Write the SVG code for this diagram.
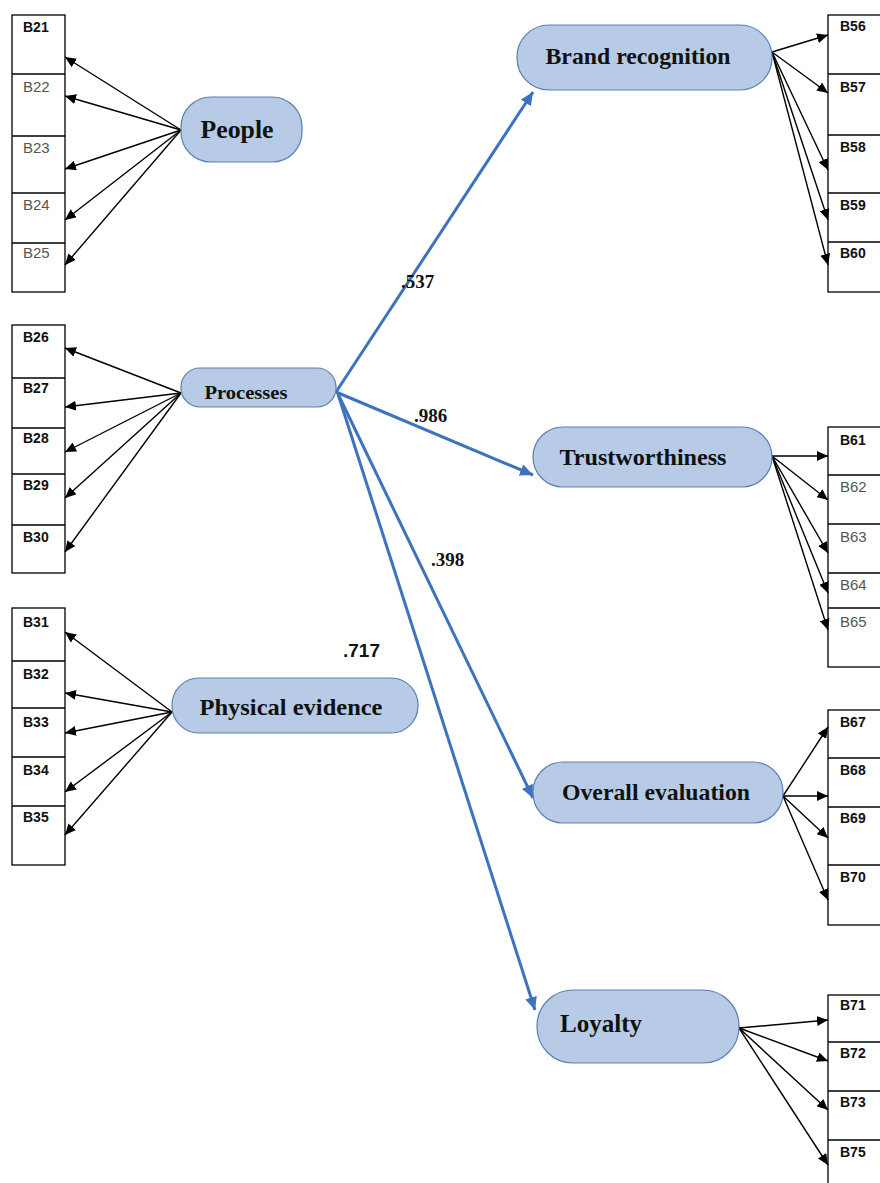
<svg xmlns="http://www.w3.org/2000/svg" width="880" height="1183" viewBox="0 0 880 1183">
<defs>
<marker id="ah" markerUnits="userSpaceOnUse" markerWidth="12" markerHeight="10" refX="11" refY="5" orient="auto">
<path d="M0,0 L11,5 L0,10 Z" fill="#000"/>
</marker>
<marker id="bh" markerUnits="userSpaceOnUse" markerWidth="14" markerHeight="12" refX="13" refY="6" orient="auto">
<path d="M0,0 L13,6 L0,12 Z" fill="#3b73bd"/>
</marker>
<style>
.box{fill:#fff;stroke:#000;stroke-width:1.3}
.div{stroke:#000;stroke-width:1.3}
.lb{font-family:"Liberation Sans",Arial,sans-serif;font-size:14px;font-weight:bold;fill:#111}
.ln{font-family:"Liberation Sans",Arial,sans-serif;font-size:15px;fill:#555}
.node{fill:#b7cbe6;stroke:#5b7fb3;stroke-width:1.2}
.nt{font-family:"Liberation Serif","Times New Roman",serif;font-size:24px;font-weight:bold;fill:#111;text-anchor:middle}
.k{stroke:#000;stroke-width:1.4;fill:none;marker-end:url(#ah)}
.b{stroke:#3b73bd;stroke-width:3;fill:none;marker-end:url(#bh)}
.v{font-family:"Liberation Serif","Times New Roman",serif;font-size:19px;font-weight:bold;fill:#111}
.vs{font-family:"Liberation Sans",Arial,sans-serif;font-size:19px;font-weight:bold;fill:#111}
</style>
</defs>
<rect width="880" height="1183" fill="#fff"/>

<g id="col-people">
<rect class="box" x="12" y="15" width="53" height="277"/>
<line class="div" x1="12" y1="74" x2="65" y2="74"/>
<line class="div" x1="12" y1="136" x2="65" y2="136"/>
<line class="div" x1="12" y1="193" x2="65" y2="193"/>
<line class="div" x1="12" y1="243" x2="65" y2="243"/>
<text class="lb" x="23" y="32">B21</text>
<text class="ln" x="23" y="92">B22</text>
<text class="ln" x="23" y="153">B23</text>
<text class="ln" x="23" y="210">B24</text>
<text class="ln" x="23" y="258">B25</text>
</g>

<g id="col-processes">
<rect class="box" x="12" y="325" width="53" height="248"/>
<line class="div" x1="12" y1="378" x2="65" y2="378"/>
<line class="div" x1="12" y1="428" x2="65" y2="428"/>
<line class="div" x1="12" y1="474" x2="65" y2="474"/>
<line class="div" x1="12" y1="525" x2="65" y2="525"/>
<text class="lb" x="23" y="342">B26</text>
<text class="lb" x="23" y="393">B27</text>
<text class="lb" x="23" y="443">B28</text>
<text class="lb" x="23" y="490">B29</text>
<text class="lb" x="23" y="542">B30</text>
</g>

<g id="col-physical">
<rect class="box" x="12" y="608" width="53" height="257"/>
<line class="div" x1="12" y1="661" x2="65" y2="661"/>
<line class="div" x1="12" y1="708" x2="65" y2="708"/>
<line class="div" x1="12" y1="757" x2="65" y2="757"/>
<line class="div" x1="12" y1="806" x2="65" y2="806"/>
<text class="lb" x="23" y="627">B31</text>
<text class="lb" x="23" y="679">B32</text>
<text class="lb" x="23" y="727">B33</text>
<text class="lb" x="23" y="775">B34</text>
<text class="lb" x="23" y="822">B35</text>
</g>

<g id="col-brand">
<rect class="box" x="828" y="15" width="70" height="277"/>
<line class="div" x1="828" y1="74" x2="880" y2="74"/>
<line class="div" x1="828" y1="135" x2="880" y2="135"/>
<line class="div" x1="828" y1="193" x2="880" y2="193"/>
<line class="div" x1="828" y1="242" x2="880" y2="242"/>
<text class="lb" x="840" y="31">B56</text>
<text class="lb" x="840" y="92">B57</text>
<text class="lb" x="840" y="152">B58</text>
<text class="lb" x="840" y="210">B59</text>
<text class="lb" x="840" y="258">B60</text>
</g>

<g id="col-trust">
<rect class="box" x="828" y="427" width="70" height="240"/>
<line class="div" x1="828" y1="475" x2="880" y2="475"/>
<line class="div" x1="828" y1="524" x2="880" y2="524"/>
<line class="div" x1="828" y1="573" x2="880" y2="573"/>
<line class="div" x1="828" y1="608" x2="880" y2="608"/>
<text class="lb" x="840" y="445">B61</text>
<text class="ln" x="840" y="492">B62</text>
<text class="ln" x="840" y="542">B63</text>
<text class="ln" x="840" y="590">B64</text>
<text class="ln" x="840" y="627">B65</text>
</g>

<g id="col-overall">
<rect class="box" x="828" y="710" width="70" height="215"/>
<line class="div" x1="828" y1="758" x2="880" y2="758"/>
<line class="div" x1="828" y1="807" x2="880" y2="807"/>
<line class="div" x1="828" y1="865" x2="880" y2="865"/>
<text class="lb" x="840" y="727">B67</text>
<text class="lb" x="840" y="775">B68</text>
<text class="lb" x="840" y="823">B69</text>
<text class="lb" x="840" y="882">B70</text>
</g>

<g id="col-loyalty">
<rect class="box" x="828" y="995" width="70" height="220"/>
<line class="div" x1="828" y1="1042" x2="880" y2="1042"/>
<line class="div" x1="828" y1="1091" x2="880" y2="1091"/>
<line class="div" x1="828" y1="1140" x2="880" y2="1140"/>
<text class="lb" x="840" y="1010">B71</text>
<text class="lb" x="840" y="1058">B72</text>
<text class="lb" x="840" y="1107">B73</text>
<text class="lb" x="840" y="1157">B75</text>
</g>

<g id="connectors">
<line class="k" x1="181" y1="130" x2="65" y2="57"/>
<line class="k" x1="181" y1="130" x2="65" y2="96"/>
<line class="k" x1="181" y1="130" x2="65" y2="169"/>
<line class="k" x1="181" y1="130" x2="65" y2="220"/>
<line class="k" x1="181" y1="130" x2="65" y2="265"/>

<line class="k" x1="181" y1="393" x2="65" y2="348"/>
<line class="k" x1="181" y1="393" x2="65" y2="407"/>
<line class="k" x1="181" y1="393" x2="65" y2="452"/>
<line class="k" x1="181" y1="393" x2="65" y2="498"/>
<line class="k" x1="181" y1="393" x2="65" y2="552"/>

<line class="k" x1="172" y1="712" x2="65" y2="632"/>
<line class="k" x1="172" y1="712" x2="65" y2="693"/>
<line class="k" x1="172" y1="712" x2="65" y2="733"/>
<line class="k" x1="172" y1="712" x2="65" y2="792"/>
<line class="k" x1="172" y1="712" x2="65" y2="835"/>

<line class="k" x1="772" y1="52" x2="828" y2="35"/>
<line class="k" x1="772" y1="52" x2="828" y2="93"/>
<line class="k" x1="772" y1="52" x2="828" y2="170"/>
<line class="k" x1="772" y1="52" x2="828" y2="220"/>
<line class="k" x1="772" y1="52" x2="828" y2="265"/>

<line class="k" x1="772" y1="456" x2="828" y2="456"/>
<line class="k" x1="772" y1="456" x2="828" y2="500"/>
<line class="k" x1="772" y1="456" x2="828" y2="553"/>
<line class="k" x1="772" y1="456" x2="828" y2="593"/>
<line class="k" x1="772" y1="456" x2="828" y2="630"/>

<line class="k" x1="783" y1="796" x2="828" y2="727"/>
<line class="k" x1="783" y1="796" x2="828" y2="796"/>
<line class="k" x1="783" y1="796" x2="828" y2="838"/>
<line class="k" x1="783" y1="796" x2="828" y2="900"/>

<line class="k" x1="739" y1="1028" x2="828" y2="1020"/>
<line class="k" x1="739" y1="1028" x2="828" y2="1061"/>
<line class="k" x1="739" y1="1028" x2="828" y2="1110"/>
<line class="k" x1="739" y1="1028" x2="828" y2="1165"/>

<line class="b" x1="336" y1="392" x2="533" y2="92"/>
<line class="b" x1="336" y1="392" x2="533" y2="475"/>
<line class="b" x1="338" y1="394" x2="533" y2="798"/>
<line class="b" x1="338" y1="394" x2="535" y2="1010"/>
<text class="v" x="401" y="288">.537</text>
<text class="v" x="414" y="422">.986</text>
<text class="v" x="431" y="566">.398</text>
<text class="vs" x="343" y="657">.717</text>
</g>

<g id="node-people">
<rect class="node" x="181" y="97" width="121" height="65" rx="30" ry="30"/>
<text class="nt" x="237" y="138" style="font-size:26px" textLength="73" lengthAdjust="spacingAndGlyphs">People</text>
</g>
<g id="node-processes">
<rect class="node" x="181" y="368" width="155" height="39" rx="19" ry="19"/>
<text class="nt" x="246" y="399" style="font-size:18px" textLength="83" lengthAdjust="spacingAndGlyphs">Processes</text>
</g>
<g id="node-physical">
<rect class="node" x="172" y="678" width="246" height="55" rx="27" ry="27"/>
<text class="nt" x="291" y="715" textLength="183" lengthAdjust="spacingAndGlyphs">Physical evidence</text>
</g>
<g id="node-brand">
<rect class="node" x="517" y="25" width="255" height="65" rx="32" ry="32"/>
<text class="nt" x="638" y="64" textLength="185" lengthAdjust="spacingAndGlyphs">Brand recognition</text>
</g>
<g id="node-trust">
<rect class="node" x="533" y="427" width="239" height="60" rx="30" ry="30"/>
<text class="nt" x="643" y="465" textLength="167" lengthAdjust="spacingAndGlyphs">Trustworthiness</text>
</g>
<g id="node-overall">
<rect class="node" x="533" y="762" width="250" height="61" rx="30" ry="30"/>
<text class="nt" x="656" y="800" textLength="188" lengthAdjust="spacingAndGlyphs">Overall evaluation</text>
</g>
<g id="node-loyalty">
<rect class="node" x="537" y="990" width="202" height="73" rx="36" ry="36"/>
<text class="nt" x="601" y="1032" style="font-size:25px" textLength="82" lengthAdjust="spacingAndGlyphs">Loyalty</text>
</g>
</svg>
